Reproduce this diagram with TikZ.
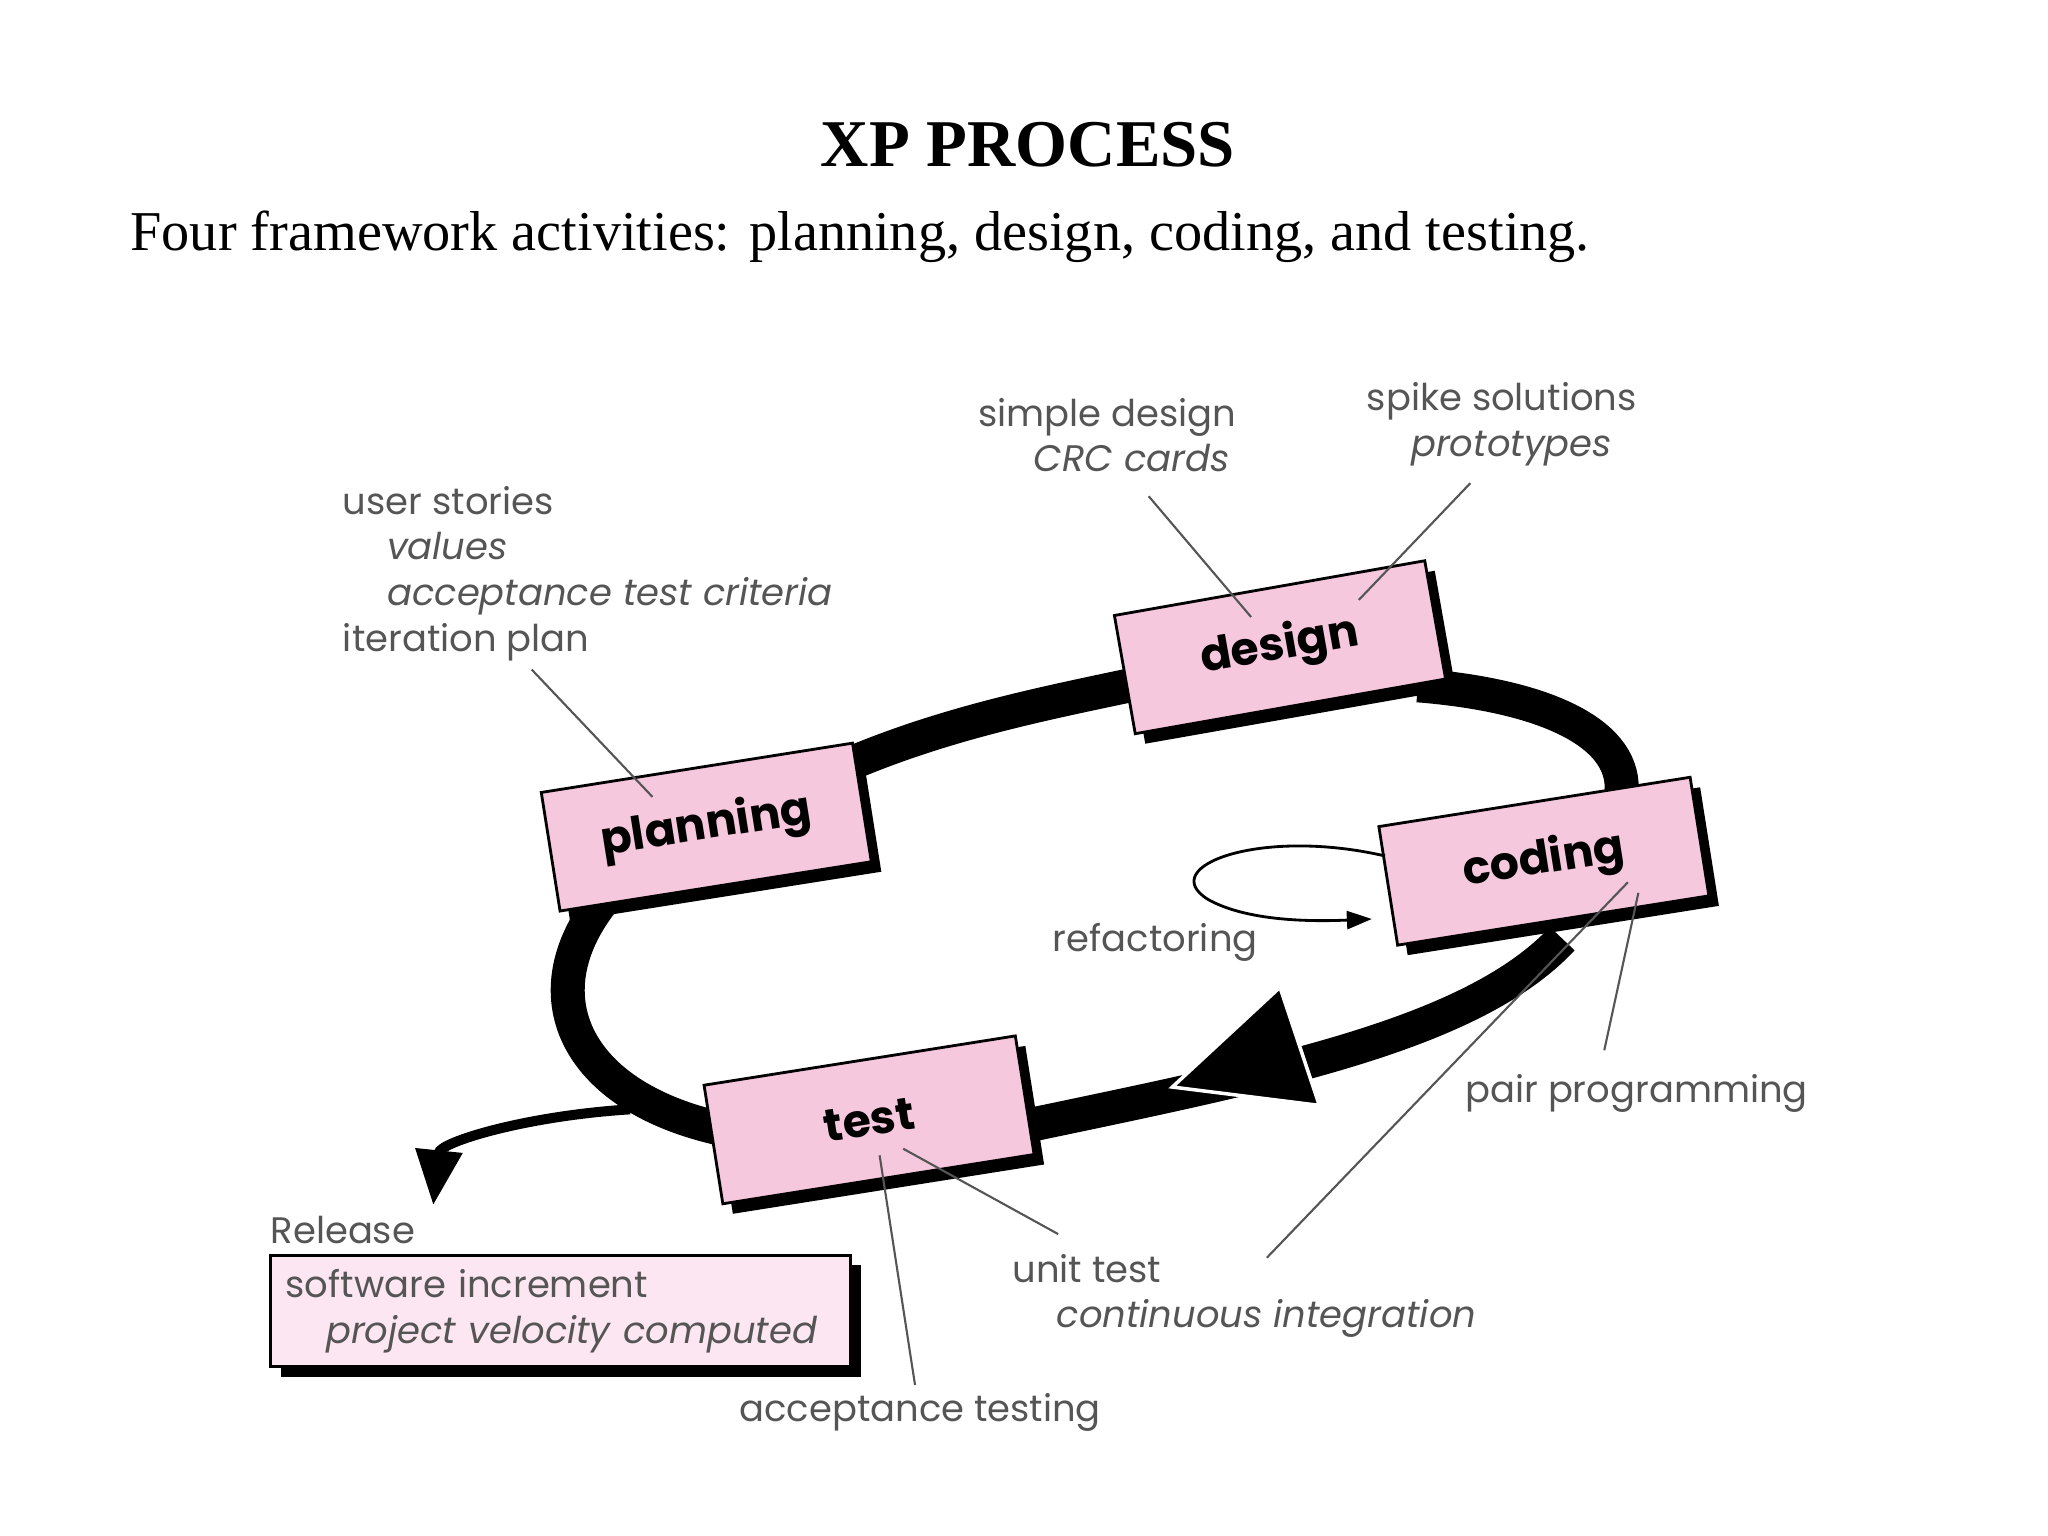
\documentclass[tikz,border=0pt]{standalone}
\usepackage{fontspec}
\setmainfont{Liberation Serif}
\newfontfamily\lab{Poppins}
\usetikzlibrary{shadows,arrows.meta}
\definecolor{boxpink}{HTML}{F6C8DE}
\definecolor{relpink}{HTML}{FCE6F1}
\definecolor{labgray}{HTML}{555555}
\begin{document}
\begin{tikzpicture}[x=0.013128cm,y=-0.013128cm,
  act/.style={draw=black,line width=0.8pt,fill=boxpink,minimum width=3.15cm,minimum height=1.2cm,
    font=\lab\bfseries\fontsize{13}{15}\selectfont,
    drop shadow={shadow xshift=0.1cm,shadow yshift=-0.1cm,opacity=1,fill=black}},
  lbl/.style={font=\lab\fontsize{10.5}{13}\selectfont,text=labgray,align=left,inner sep=1pt},
  band/.style={line width=0.34cm,black},
  thin/.style={draw=labgray,line width=0.6pt}]
\useasboundingbox (0,0) rectangle (1560,1170);
\node[font=\bfseries\fontsize{19}{22}\selectfont] (title) at (783,110) {XP PROCESS};
\node[anchor=west,font=\fontsize{16}{19}\selectfont] (sub) at (90,180) {Four framework activities: planning, design, coding, and testing.};
% loop bands
\draw[band] (640,585) .. controls (720,550) and (800,535) .. (870,520);
\draw[band] (1080,522) .. controls (1180,530) and (1240,560) .. (1235,605);
\draw[band] (1190,715) .. controls (1120,790) and (960,820) .. (770,860);
\draw[band] (560,862) .. controls (440,840) and (400,760) .. (460,685);
\coordinate (tip) at (893,828);
\fill[black,draw=white,line width=1pt] (tip) -- (975,752) -- (1005,842) -- cycle;
% boxes
\node[act,rotate=9] (planning) at (538,630) {planning};
\node[act,rotate=10] (design) at (975,493) {design};
\node[act,rotate=9] (coding) at (1176,656) {coding};
\node[act,rotate=9] (test) at (662,853) {test};
% release
\coordinate (rs) at (480,845);
\coordinate (re) at (330,918);
\draw[line width=0.1cm,-{Triangle[length=0.55cm,width=0.45cm]}] (rs) .. controls (400,850) and (335,870) .. (re);
\node[lbl,anchor=west] (rel) at (203,937) {Release};
\node[draw=black,line width=0.8pt,fill=relpink,minimum width=5.8cm,minimum height=1.1cm,
  drop shadow={shadow xshift=0.1cm,shadow yshift=-0.1cm,opacity=1,fill=black},
  lbl,anchor=north west,text width=5.5cm,inner sep=4pt] (relbox) at (205,955)
  {software increment\\\hspace*{1.1em}\textit{project velocity computed}};
% refactoring loop
\coordinate (rf1) at (1055,652);
\coordinate (rf2) at (1045,700);
\draw[line width=0.8pt,-{Triangle[length=0.25cm,width=0.18cm]}] (rf1) .. controls (960,630) and (880,660) .. (920,685) .. controls (950,702) and (1000,702) .. (rf2);
\node[lbl] (refac) at (880,718) {refactoring};
% labels
\node[lbl,anchor=north west] (pl) at (258,367) {user stories\\\hspace*{1.2em}\textit{values}\\\hspace*{1.2em}\textit{acceptance test criteria}\\iteration plan};
\node[lbl,anchor=north west] (dl1) at (742,300) {simple design\\\hspace*{1.5em}\textit{CRC cards}};
\node[lbl,anchor=north west] (dl2) at (1038,288) {spike solutions\\\hspace*{1.2em}\textit{prototypes}};
\node[lbl,anchor=west] (pp) at (1113,833) {pair programming};
\node[lbl,anchor=north west] (ut) at (768,952) {unit test\\\hspace*{1.2em}\textit{continuous integration}};
\node[lbl,anchor=west] (at) at (560,1076) {acceptance testing};
\coordinate (p1) at (405,510); \coordinate (p2) at (497,607);
\draw[thin] (p1) -- (p2);
\draw[thin] (875,378) -- (953,470);
\draw[thin] (1120,368) -- (1035,457);
\draw[thin] (1222,800) -- (1248,680);
\draw[thin] (965,958) -- (1240,672);
\draw[thin] (806,940) -- (688,875);
\draw[thin] (697,1055) -- (670,880);
\end{tikzpicture}
\end{document}
